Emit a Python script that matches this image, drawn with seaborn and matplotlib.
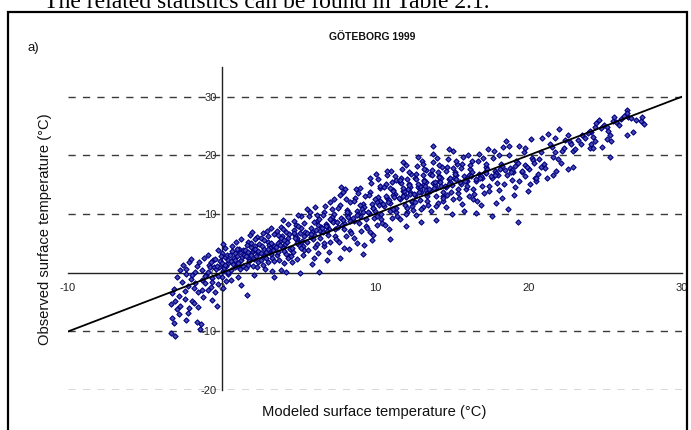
import matplotlib
matplotlib.use("Agg")
import matplotlib.pyplot as plt
from matplotlib.patches import Rectangle
import seaborn as sns
import pandas as pd

# Modeled vs observed surface temperature (°C), Göteborg 1999
modeled_temp = [
    -3.3, -3.0, -3.2, -3.1, -2.9, -3.3, -3.0, -2.8, -2.7, -3.1, -2.6, -2.9, -3.2, -2.7, -2.5, -2.8,
    -2.3, -2.1, -1.9, -2.4, -2.2, -1.8, -1.6, -2.0, -2.3, -1.7, -2.1, -1.9, -1.6, -2.4, -2.2, -1.8, -2.0, -1.7, -2.3, -1.5,
    -1.4, -1.35, -1.5, -1.2, -0.9, -1.1, -0.7, -0.6, -1.3, -0.8, -1.0, -0.55, -1.45, -0.75, -1.15, -0.9, -0.65, -1.25, -0.85, -0.5, -1.05, -0.7, -1.3, -0.6,
    -0.3, -0.4, -0.2, 0.0, 0.1, 0.3, -0.1, 0.2, 0.4, -0.35, 0.05, 0.25, -0.15, 0.45, 0.15, -0.45, 0.35, -0.25, 0.0, 0.3, 0.1, -0.05, 0.4, 0.2, -0.3, 0.45, 0.1, -0.2,
    0.6, 0.8, 1.0, 1.2, 1.4, 0.7, 0.9, 1.1, 1.3, 0.55, 0.75, 0.95, 1.15, 1.35, 0.65, 0.85, 1.05, 1.25, 1.45, 0.6, 0.8, 1.0, 1.2, 1.4, 0.9, 1.1, 0.7, 1.3,
    1.6, 1.65, 1.8, 2.0, 2.2, 2.4, 1.7, 1.9, 2.1, 2.3, 1.55, 1.75, 1.95, 2.15, 2.35, 1.6, 1.85, 2.05, 2.25, 2.45, 1.7, 1.9, 2.1, 2.3, 2.0, 2.2, 1.8, 2.4, 1.65, 2.1,
    2.6, 2.8, 3.0, 3.2, 3.4, 2.7, 2.9, 3.1, 3.3, 2.55, 2.75, 2.95, 3.15, 3.35, 2.65, 2.85, 3.05, 3.25, 3.45, 2.6, 2.8, 3.0, 3.2, 3.4, 2.9, 3.1, 2.7, 3.3, 3.0, 3.4,
    3.6, 3.8, 4.0, 4.2, 4.4, 3.7, 3.9, 4.1, 4.3, 3.55, 3.75, 3.95, 4.15, 4.35, 3.65, 3.85, 4.05, 4.25, 4.45, 3.6, 3.8, 4.0, 4.2, 4.4, 3.9, 4.1, 3.7, 4.3, 4.0, 4.2,
    4.6, 4.8, 5.0, 5.2, 5.4, 4.7, 4.9, 5.1, 5.3, 4.55, 4.75, 4.95, 5.15, 5.35, 4.65, 4.85, 5.05, 5.25, 5.45, 4.6, 4.8, 5.0, 5.2, 5.4, 4.9, 5.1, 4.7, 5.3, 5.0, 4.9,
    5.6, 5.8, 6.0, 6.2, 6.4, 5.7, 5.9, 6.1, 6.3, 5.55, 5.75, 5.95, 6.15, 6.35, 5.65, 5.85, 6.05, 6.25, 6.45, 5.6, 5.8, 6.0, 6.2, 6.4, 6.35, 5.9, 6.1, 6.3,
    6.6, 6.8, 7.0, 7.2, 7.4, 6.7, 6.9, 7.1, 7.3, 6.55, 6.75, 6.95, 7.15, 7.35, 6.65, 6.85, 7.05, 7.25, 7.45, 6.6, 6.8, 7.0, 7.2, 7.4, 6.9, 7.1, 7.3, 6.7,
    7.6, 7.8, 8.0, 8.2, 8.4, 7.7, 7.9, 8.1, 8.3, 7.55, 7.75, 7.95, 8.15, 8.35, 7.65, 7.85, 8.05, 8.25, 8.45, 7.6, 7.8, 8.0, 8.2, 8.4, 7.7, 8.1, 7.9, 8.3,
    8.6, 8.8, 9.0, 9.2, 9.4, 8.7, 8.9, 9.1, 9.3, 8.55, 8.75, 8.95, 9.15, 9.35, 8.65, 8.85, 9.05, 9.25, 9.45, 8.6, 8.8, 9.0, 9.2, 9.4, 8.9, 9.3,
    9.6, 9.8, 10.0, 10.2, 10.4, 9.7, 9.9, 10.1, 10.3, 9.55, 9.75, 9.95, 10.15, 10.35, 9.65, 9.85, 10.05, 10.25, 10.45, 9.6, 9.8, 10.0, 10.2, 10.4, 9.9, 10.3, 10.1, 9.7,
    10.6, 10.8, 11.0, 11.2, 11.4, 10.7, 10.9, 11.1, 11.3, 10.55, 10.75, 10.95, 11.15, 11.35, 10.65, 10.85, 11.05, 11.25, 11.45, 10.6, 10.8, 11.0, 11.2, 11.4, 10.9, 11.1, 10.7, 11.3, 11.0, 11.2,
    11.6, 11.8, 12.0, 12.2, 12.4, 11.7, 11.9, 12.1, 12.3, 11.55, 11.75, 11.95, 12.15, 12.35, 11.65, 11.85, 12.05, 12.25, 12.45, 11.6, 11.8, 12.0, 12.2, 12.4, 11.9, 12.1, 11.7, 12.3, 12.0, 12.2, 11.8, 12.4, 11.6, 12.1,
    12.6, 12.8, 13.0, 13.2, 13.4, 12.7, 12.9, 13.1, 13.3, 12.55, 12.75, 12.95, 13.15, 13.35, 12.65, 12.85, 13.05, 13.25, 13.45, 12.6, 12.8, 13.0, 13.2, 13.4, 12.9, 13.1, 12.7, 13.3, 13.0, 13.2, 12.8, 13.4, 12.6, 13.1,
    13.6, 13.8, 14.0, 14.2, 14.4, 13.7, 13.9, 14.1, 14.3, 13.55, 13.75, 13.95, 14.15, 14.35, 13.65, 13.85, 14.05, 14.25, 14.45, 13.6, 13.8, 14.0, 14.2, 14.4, 13.9, 14.1, 13.7, 14.3, 14.0, 14.2, 13.8, 14.4,
    14.6, 14.8, 15.0, 15.2, 15.4, 14.7, 14.9, 15.1, 15.3, 14.55, 14.75, 14.95, 15.15, 15.35, 14.65, 14.85, 15.05, 15.25, 15.45, 14.6, 14.8, 15.0, 15.2, 15.4, 14.9, 15.1, 14.7, 15.3,
    15.6, 15.8, 16.0, 16.2, 16.4, 15.7, 15.9, 16.1, 16.3, 15.55, 15.75, 15.95, 16.15, 16.35, 15.65, 15.85, 16.05, 16.25, 16.45, 15.6, 15.8, 16.0, 16.2, 16.4,
    16.6, 16.8, 17.0, 17.2, 17.4, 16.7, 16.9, 17.1, 17.3, 16.55, 16.75, 16.95, 17.15, 17.35, 16.65, 16.85, 17.05, 17.25, 17.45, 16.6, 17.2, 16.9,
    17.6, 17.8, 18.0, 18.2, 18.4, 17.7, 17.9, 18.1, 18.3, 17.55, 17.75, 17.95, 18.15, 18.35, 17.65, 17.85, 18.05, 18.25, 18.45, 17.9,
    18.6, 18.8, 19.0, 19.2, 19.4, 18.7, 18.9, 19.1, 19.3, 18.55, 18.75, 18.95, 19.15, 19.35, 18.65, 18.85, 19.3, 19.05,
    19.6, 19.8, 20.0, 20.2, 20.4, 19.7, 19.9, 20.1, 20.3, 19.55, 19.75, 19.95, 20.15, 20.35, 19.8, 20.5,
    20.6, 20.8, 20.9, 21.0, 21.2, 21.3, 21.4, 20.7, 21.1, 20.5, 21.5, 20.8,
    21.6, 21.7, 21.8, 21.9, 22.0, 22.1, 22.2, 21.6, 21.7, 22.4, 22.3,
    22.6, 22.7, 22.8, 22.9, 22.9, 23.0, 23.2, 23.4, 22.6,
    23.5, 23.7, 24.0, 24.1, 24.2, 24.3, 24.2, 24.1, 24.3, 24.0, 24.4, 23.9,
    24.6, 24.8, 24.9, 25.1, 25.1, 25.2, 25.3, 25.4, 25.3, 24.7, 25.5,
    25.6, 25.7, 26.0, 26.2, 26.4, 26.4, 26.5, 26.4, 25.9,
    26.7, 26.8, 27.3, 27.4, 27.5, 27.0,
]

observed_temp = [
    -10.3, -10.7, -7.7, -8.5, -6.2, -5.4, -4.8, -3.9, -5.6, -2.7, -1.6, -0.8, -3.5, 0.4, 1.3, -7.0,
    -8.0, -6.0, -4.8, -3.1, -2.2, -5.2, -8.4, -1.0, 0.6, 0.2, 1.8, -0.4, 1.1, -4.4, -6.9, -2.6, 2.4, -1.7, -0.2, -3.3,
    -9.5, -8.7, -5.9, -4.1, -3.0, -1.8, -2.4, -0.9, 0.5, 1.3, -0.3, 2.1, 1.8, 0.9, 2.6, 3.1, -1.5, -2.9, 0.1, 1.0, -0.6, 1.9, -1.2, -4.6,
    -5.6, -3.2, -1.9, -0.8, 0.3, 1.2, 2.0, 2.7, 1.6, 0.6, 3.4, 4.2, 1.0, -0.2, 0.8, 2.4, 3.0, -0.5, 1.7, -1.4, 4.9, 2.9, 0.2, 1.4, 1.1, 2.2, -2.6, 3.8,
    0.4, 1.9, 2.8, 3.6, 1.2, 4.5, 0.9, -0.7, 2.2, 3.1, 1.5, 5.3, 4.1, 2.7, 2.0, 3.4, 1.1, 5.8, 3.0, -1.2, 2.5, 4.0, 0.6, 3.9, 2.1, 1.7, 3.7, -2.0,
    0.8, -3.7, 2.3, 3.5, 4.6, 1.9, 5.2, 3.0, 2.4, 6.1, 3.9, 1.4, 4.4, 5.7, 3.3, 2.9, 6.4, 1.2, 2.8, 4.9, 3.6, 5.0, 3.9, 0.9, 7.0, 4.1, 2.0, 3.7, 4.7, -0.3,
    2.1, 4.0, 5.3, 3.2, 6.6, 1.3, 3.6, 4.8, 2.5, 5.9, 2.9, 7.1, 4.3, 3.8, 4.6, 0.7, 6.2, 5.1, 2.0, 3.3, 5.6, 1.8, 7.6, 4.5, 2.6, 3.9, 6.8, 0.3, 4.1, -0.8,
    3.1, 5.4, 4.2, 6.9, 2.8, 5.0, 7.8, 3.7, 5.9, 4.4, 2.2, 6.3, 4.9, 8.3, 3.5, 6.0, 1.6, 5.3, 4.0, 7.1, 4.7, 9.0, 3.2, 6.6, 0.4, 5.6, 6.5, 2.5, 7.4, 0.1,
    4.2, 6.5, 5.1, 7.7, 3.9, 8.9, 5.6, 6.8, 4.6, 2.9, 7.3, 5.9, 9.6, 6.2, 3.6, 8.1, 4.8, 5.4, 7.0, 1.8, 6.0, 7.9, 4.3, 8.5, 5.0, 0.0, 6.7, 3.0, 9.9, 2.4,
    5.3, 7.6, 6.4, 8.8, 5.9, 9.7, 7.0, 4.4, 8.2, 6.8, 10.3, 5.7, 7.3, 9.2, 3.8, 6.1, 8.6, 4.9, 7.8, 10.8, 6.6, 2.5, 9.9, 7.1, 0.2, 1.5, 11.2, 3.4,
    6.9, 8.3, 7.4, 9.5, 6.2, 10.4, 8.0, 5.3, 8.9, 7.7, 11.3, 6.5, 9.0, 10.0, 4.6, 7.2, 12.0, 8.6, 5.8, 9.8, 7.9, 3.6, 10.9, 7.5, 2.1, 9.2, 12.5, 5.1,
    7.8, 9.4, 8.5, 10.7, 7.1, 11.6, 9.0, 6.3, 10.1, 8.6, 13.2, 7.4, 9.8, 12.1, 5.2, 8.2, 14.3, 9.5, 6.8, 11.0, 14.6, 4.3, 10.4, 8.8, 2.6, 12.6, 13.7, 4.0,
    8.9, 10.6, 9.6, 11.8, 8.0, 12.7, 10.0, 7.2, 11.2, 9.3, 14.2, 8.4, 10.9, 13.1, 6.0, 9.9, 14.5, 10.3, 7.6, 12.2, 5.1, 11.5, 3.2, 9.1, 13.6, 4.7,
    10.2, 11.7, 10.6, 12.9, 9.1, 13.8, 11.1, 8.2, 12.3, 10.4, 15.3, 9.4, 12.0, 14.4, 7.0, 11.0, 16.9, 11.6, 8.5, 13.3, 5.5, 12.6, 15.9, 10.0, 6.4, 14.8, 9.7, 16.2,
    11.4, 12.8, 11.9, 14.1, 10.3, 15.2, 12.4, 9.4, 13.5, 11.8, 16.7, 10.6, 13.2, 15.8, 8.1, 12.1, 17.3, 12.9, 9.7, 14.6, 17.4, 5.8, 13.9, 11.1, 7.5, 15.5, 13.0, 16.4, 14.5, 10.9,
    12.5, 13.9, 12.9, 15.1, 11.4, 16.2, 13.4, 10.4, 14.6, 12.7, 17.6, 11.6, 14.2, 16.8, 9.1, 13.1, 18.3, 13.8, 10.7, 15.5, 18.9, 8.0, 14.9, 12.1, 14.0, 16.0, 15.3, 13.5, 10.0, 17.1, 14.4, 12.3, 15.8, 11.0,
    13.3, 14.6, 13.7, 15.8, 12.3, 16.9, 14.2, 11.2, 15.4, 13.5, 18.2, 12.4, 14.9, 17.5, 9.9, 13.8, 19.1, 14.7, 11.5, 16.1, 19.8, 8.6, 15.6, 13.0, 14.8, 16.6, 15.9, 14.1, 10.8, 17.7, 15.2, 13.6, 12.0, 18.6,
    14.0, 15.3, 14.4, 16.5, 13.0, 17.5, 14.9, 11.9, 16.1, 14.2, 18.8, 13.1, 15.6, 18.1, 10.6, 14.5, 19.6, 15.4, 12.2, 16.8, 21.6, 9.0, 16.3, 13.7, 15.5, 17.2, 16.6, 14.8, 11.4, 18.4, 20.3, 12.7,
    14.6, 15.9, 15.0, 17.1, 13.6, 18.1, 15.5, 12.5, 16.7, 14.8, 19.3, 13.7, 16.2, 18.6, 11.2, 15.1, 20.7, 16.0, 12.8, 17.4, 21.1, 10.0, 16.9, 14.3, 16.1, 17.8, 13.3, 19.0,
    15.2, 16.4, 15.6, 17.6, 14.2, 18.6, 16.0, 13.1, 17.2, 15.4, 19.7, 14.3, 16.7, 19.1, 11.8, 15.7, 20.0, 16.5, 13.4, 17.9, 10.6, 14.8, 18.3, 12.5,
    15.7, 16.9, 16.1, 18.1, 14.7, 19.1, 16.5, 13.6, 17.7, 15.9, 20.2, 14.8, 17.2, 21.1, 12.3, 16.2, 19.6, 17.0, 13.9, 10.1, 18.5, 11.5,
    16.2, 17.4, 16.6, 18.6, 15.2, 19.6, 17.0, 14.1, 18.2, 16.4, 20.8, 15.3, 17.7, 21.5, 9.7, 16.7, 20.1, 12.8, 17.5, 11.9,
    16.7, 17.9, 17.1, 19.1, 15.7, 20.1, 17.5, 14.6, 18.7, 22.5, 21.6, 15.8, 18.2, 21.6, 10.9, 17.2, 8.6, 13.3,
    17.2, 18.4, 17.6, 19.6, 16.2, 20.6, 18.0, 15.1, 19.2, 17.4, 21.3, 14.0, 22.8, 18.7, 16.5, 15.7,
    16.8, 20.5, 23.0, 18.6, 16.1, 23.7, 22.0, 19.4, 17.9, 16.2, 21.5, 18.0,
    16.7, 23.0, 17.3, 19.4, 24.5, 18.7, 20.8, 19.8, 20.5, 22.6, 21.3,
    23.5, 22.2, 22.0, 20.8, 18.1, 21.0, 22.7, 21.9, 17.7,
    23.5, 22.9, 21.3, 23.9, 23.2, 22.5, 21.3, 22.0, 24.8, 24.2, 25.5, 23.8,
    26.1, 21.5, 25.2, 24.9, 22.8, 24.2, 23.5, 22.5, 19.8, 24.6, 25.8,
    26.5, 25.6, 26.2, 26.7, 27.8, 23.5, 26.5, 27.2, 25.1,
    26.4, 23.9, 25.8, 26.5, 25.4, 26.0,
]

# 1:1 reference line
line_x = [-10, 30]
line_y = [-10, 30]

# Axis ticks and horizontal dashed grid levels
x_major = [-10, 0, 10, 20, 30]
x_labels = ["-10", "0", "10", "20", "30"]
x_minor = [-5, 5, 15, 25]
y_major = [-20, -10, 0, 10, 20, 30]
y_labels = ["-20", "-10", "0", "10", "20", "30"]
y_minor = [-15, -5, 5, 15, 25, 35]
grid_levels = [-20, -10, 10, 20, 30]

W, H = 691, 430
sns.set_style("white")
plt.rcParams["font.family"] = ["Liberation Sans", "DejaVu Sans"]

fig = plt.figure(figsize=(W / 100, H / 100), dpi=100)
fig.patch.set_facecolor("white")


def fx(px):
    return px / W


def fy(py):
    return 1 - py / H


ax = fig.add_axes([fx(68), fy(390.2), fx(682) - fx(68), fy(67.3) - fy(390.2)])
ax.set_xlim(-10, 30)
ax.set_ylim(-20, 35)
ax.set_facecolor("none")

for lvl in grid_levels:
    ax.plot([-10, 30], [lvl, lvl], color="#3a3a3a", lw=1.0,
            dashes=(5.2, 5.2), zorder=1)

df = pd.DataFrame({"modeled": modeled_temp, "observed": observed_temp})
sns.scatterplot(data=df, x="modeled", y="observed", ax=ax, marker="D", s=7,
                color="#4a4ab4", edgecolor="#000080", linewidth=0.8,
                zorder=3, legend=False)

sns.lineplot(x=line_x, y=line_y, ax=ax, color="black", lw=1.3, zorder=4,
             legend=False)

for side in ("top", "right"):
    ax.spines[side].set_visible(False)
ax.spines["left"].set_position(("data", 0))
ax.spines["bottom"].set_position(("data", 0))
for side in ("left", "bottom"):
    ax.spines[side].set_color("#222222")
    ax.spines[side].set_linewidth(1.0)
    ax.spines[side].set_zorder(2)

ax.set_xticks(x_major)
ax.set_xticklabels(x_labels)
ax.set_xticks(x_minor, minor=True)
ax.set_yticks(y_major)
ax.set_yticklabels(y_labels)
ax.set_yticks(y_minor, minor=True)
ax.tick_params(which="both", direction="inout", length=6, width=1.0,
               color="#222222", labelsize=8, labelcolor="#222222")
ax.tick_params(axis="x", which="major", pad=4)
ax.tick_params(axis="y", which="major", pad=0.5)
ax.set_xlabel("")
ax.set_ylabel("")

fig.text(fx(374.5), fy(412), "Modeled surface temperature (°C)",
         ha="center", va="center", fontsize=10.6, color="#111111")
fig.text(fx(45.5), fy(229), "Observed surface temperature (°C)",
         ha="center", va="center", rotation=90, fontsize=10.6,
         color="#111111")
fig.text(fx(372), fy(37), "GÖTEBORG 1999", ha="center", va="center",
         fontsize=7.5, fontweight="bold", color="#111111")
fig.text(fx(28), fy(48), "a)", ha="left", va="center", fontsize=9.5,
         color="#111111")
fig.text(fx(44), fy(8.5), "The related statistics can be found in Table 2.1.",
         ha="left", va="baseline", fontsize=17,
         family=["Liberation Serif", "DejaVu Serif"], color="black")

fig.patches.append(Rectangle((fx(8), -0.2), fx(687) - fx(8), fy(11.5) + 0.2,
                             transform=fig.transFigure, fill=False,
                             edgecolor="black", lw=1.6, zorder=10))

fig.savefig("out.png", dpi=100)
